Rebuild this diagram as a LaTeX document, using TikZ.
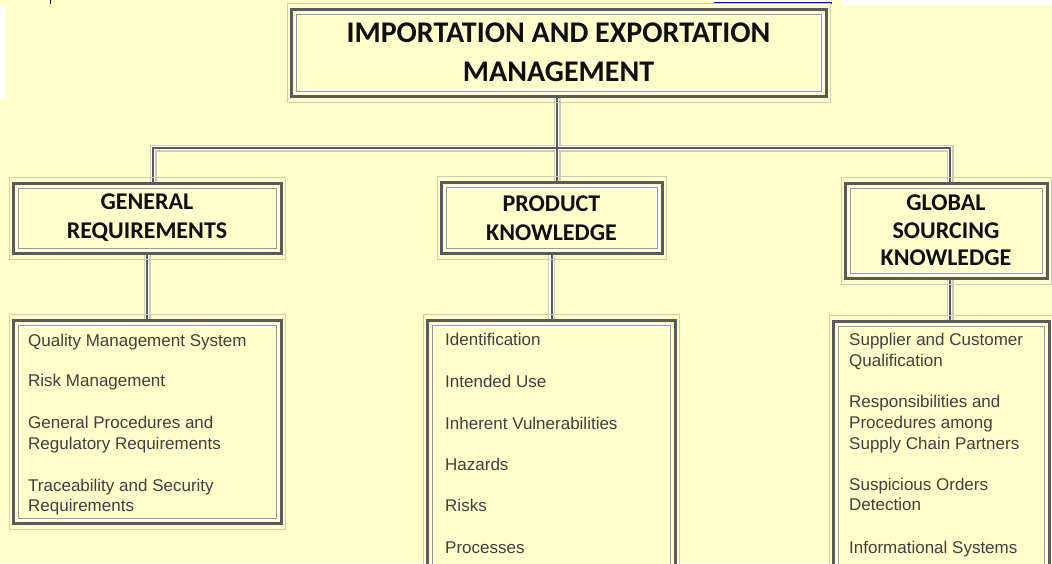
\documentclass[tikz,border=0pt]{standalone}
\usepackage{fontspec}
\setmainfont{Liberation Sans}
\newfontfamily\headfont{Carlito}
\definecolor{bg}{RGB}{255,255,204}
\definecolor{halo}{RGB}{204,204,178}
\definecolor{frame}{RGB}{90,90,90}
\definecolor{innerline}{RGB}{150,150,150}
\definecolor{itemtext}{RGB}{64,64,64}
\definecolor{headtext}{RGB}{15,15,15}
\definecolor{linkblue}{RGB}{0,0,238}

% light outline, inner white/gray rule of a framed box
\newcommand\boxdeco[1]{%
  \draw[halo, line width=1pt] ([shift={(-4,6)}]#1.south west) rectangle ([shift={(4,-6)}]#1.north east);
  \draw[white, line width=3pt] ([shift={(5,-5)}]#1.south west) rectangle ([shift={(-5,5)}]#1.north east);
  \draw[innerline, line width=1pt] ([shift={(5,-5)}]#1.south west) rectangle ([shift={(-5,5)}]#1.north east);
}

\begin{document}
\begin{tikzpicture}[x=1pt,y=-1pt,
  box/.style={draw=frame, line width=3pt, fill=bg, inner sep=0pt, outer sep=0pt,
    align=center, text=headtext},
  titlefont/.style={font=\headfont\bfseries\fontsize{30}{39}\selectfont},
  headfont/.style={font=\headfont\bfseries\fontsize{24}{29}\selectfont},
  item/.style={anchor=base west, inner sep=0pt, text=itemtext,
    font=\fontsize{17}{21}\selectfont},
  pipehalo/.style={line width=7pt, halo},
  pipelight/.style={line width=4.5pt, white},
  pipecore/.style={line width=2pt, frame},
]
\useasboundingbox (0,0) rectangle (1052,563);
\fill[bg] (0,0) rectangle (1052,563);
\fill[white] (842,0) rectangle (1052,6);
\fill[white] (0,6) rectangle (6,100);
\fill[linkblue] (714,1.5) rectangle (832,4);
\draw[black, line width=1pt] (50,0) -- (50,4);

% boxes
\node[box, titlefont, minimum width=535, minimum height=87] (top) at (558.5,52.5)
  {IMPORTATION AND EXPORTATION\\MANAGEMENT};
\node[box, headfont, minimum width=268, minimum height=70] (gen) at (147,218)
  {GENERAL\\REQUIREMENTS};
\node[box, headfont, minimum width=221, minimum height=71] (prod) at (551.5,218)
  {PRODUCT\\KNOWLEDGE};
\node[box, headfont, minimum width=202, minimum height=95,
  font=\headfont\bfseries\fontsize{24}{27.5}\selectfont] (glob) at (946,230.5)
  {GLOBAL\\SOURCING\\KNOWLEDGE};
\node[box, minimum width=268, minimum height=203] (glist) at (147,421.5) {};
\node[box, minimum width=248, minimum height=270] (plist) at (551,455) {};
\node[box, minimum width=216, minimum height=269] (qlist) at (941,455.5) {};

\coordinate (hub) at (557,148);

% connectors, drawn as layered rules
\foreach \s in {pipehalo,pipelight,pipecore} {
  \draw[\s] (top.south -| hub) -- (hub);
  \draw[\s] ([xshift=6]gen.north) |- (hub) -| ([xshift=4]glob.north);
  \draw[\s] (hub) -- ([xshift=5.5]prod.north);
  \draw[\s] (gen.south) -- (gen.south |- glist.north);
  \draw[\s] (prod.south) -- (prod.south |- plist.north);
  \draw[\s] ([xshift=4]glob.south) -- ([xshift=4]glob.south |- qlist.north);
}

% redraw frames over connector ends
\foreach \n in {top,gen,prod,glob,glist,plist,qlist} {
  \draw[frame, line width=3pt] (\n.south west) rectangle (\n.north east);
  \boxdeco{\n}
}

% list entries
\node[item] (g1) at (28,346) {Quality Management System};
\node[item] (g2) at (28,386) {Risk Management};
\node[item] (g3) at (28,428) {General Procedures and};
\node[item] (g4) at (28,449) {Regulatory Requirements};
\node[item] (g5) at (28,491) {Traceability and Security};
\node[item] (g6) at (28,511) {Requirements};

\node[item] (p1) at (445,345) {Identification};
\node[item] (p2) at (445,387) {Intended Use};
\node[item] (p3) at (445,429) {Inherent Vulnerabilities};
\node[item] (p4) at (445,470) {Hazards};
\node[item] (p5) at (445,511) {Risks};
\node[item] (p6) at (445,553) {Processes};

\node[item] (q1) at (849,345) {Supplier and Customer};
\node[item] (q2) at (849,366) {Qualification};
\node[item] (q3) at (849,407) {Responsibilities and};
\node[item] (q4) at (849,428) {Procedures among};
\node[item] (q5) at (849,449) {Supply Chain Partners};
\node[item] (q6) at (849,490) {Suspicious Orders};
\node[item] (q7) at (849,510) {Detection};
\node[item] (q8) at (849,553) {Informational Systems};
\end{tikzpicture}
\end{document}
